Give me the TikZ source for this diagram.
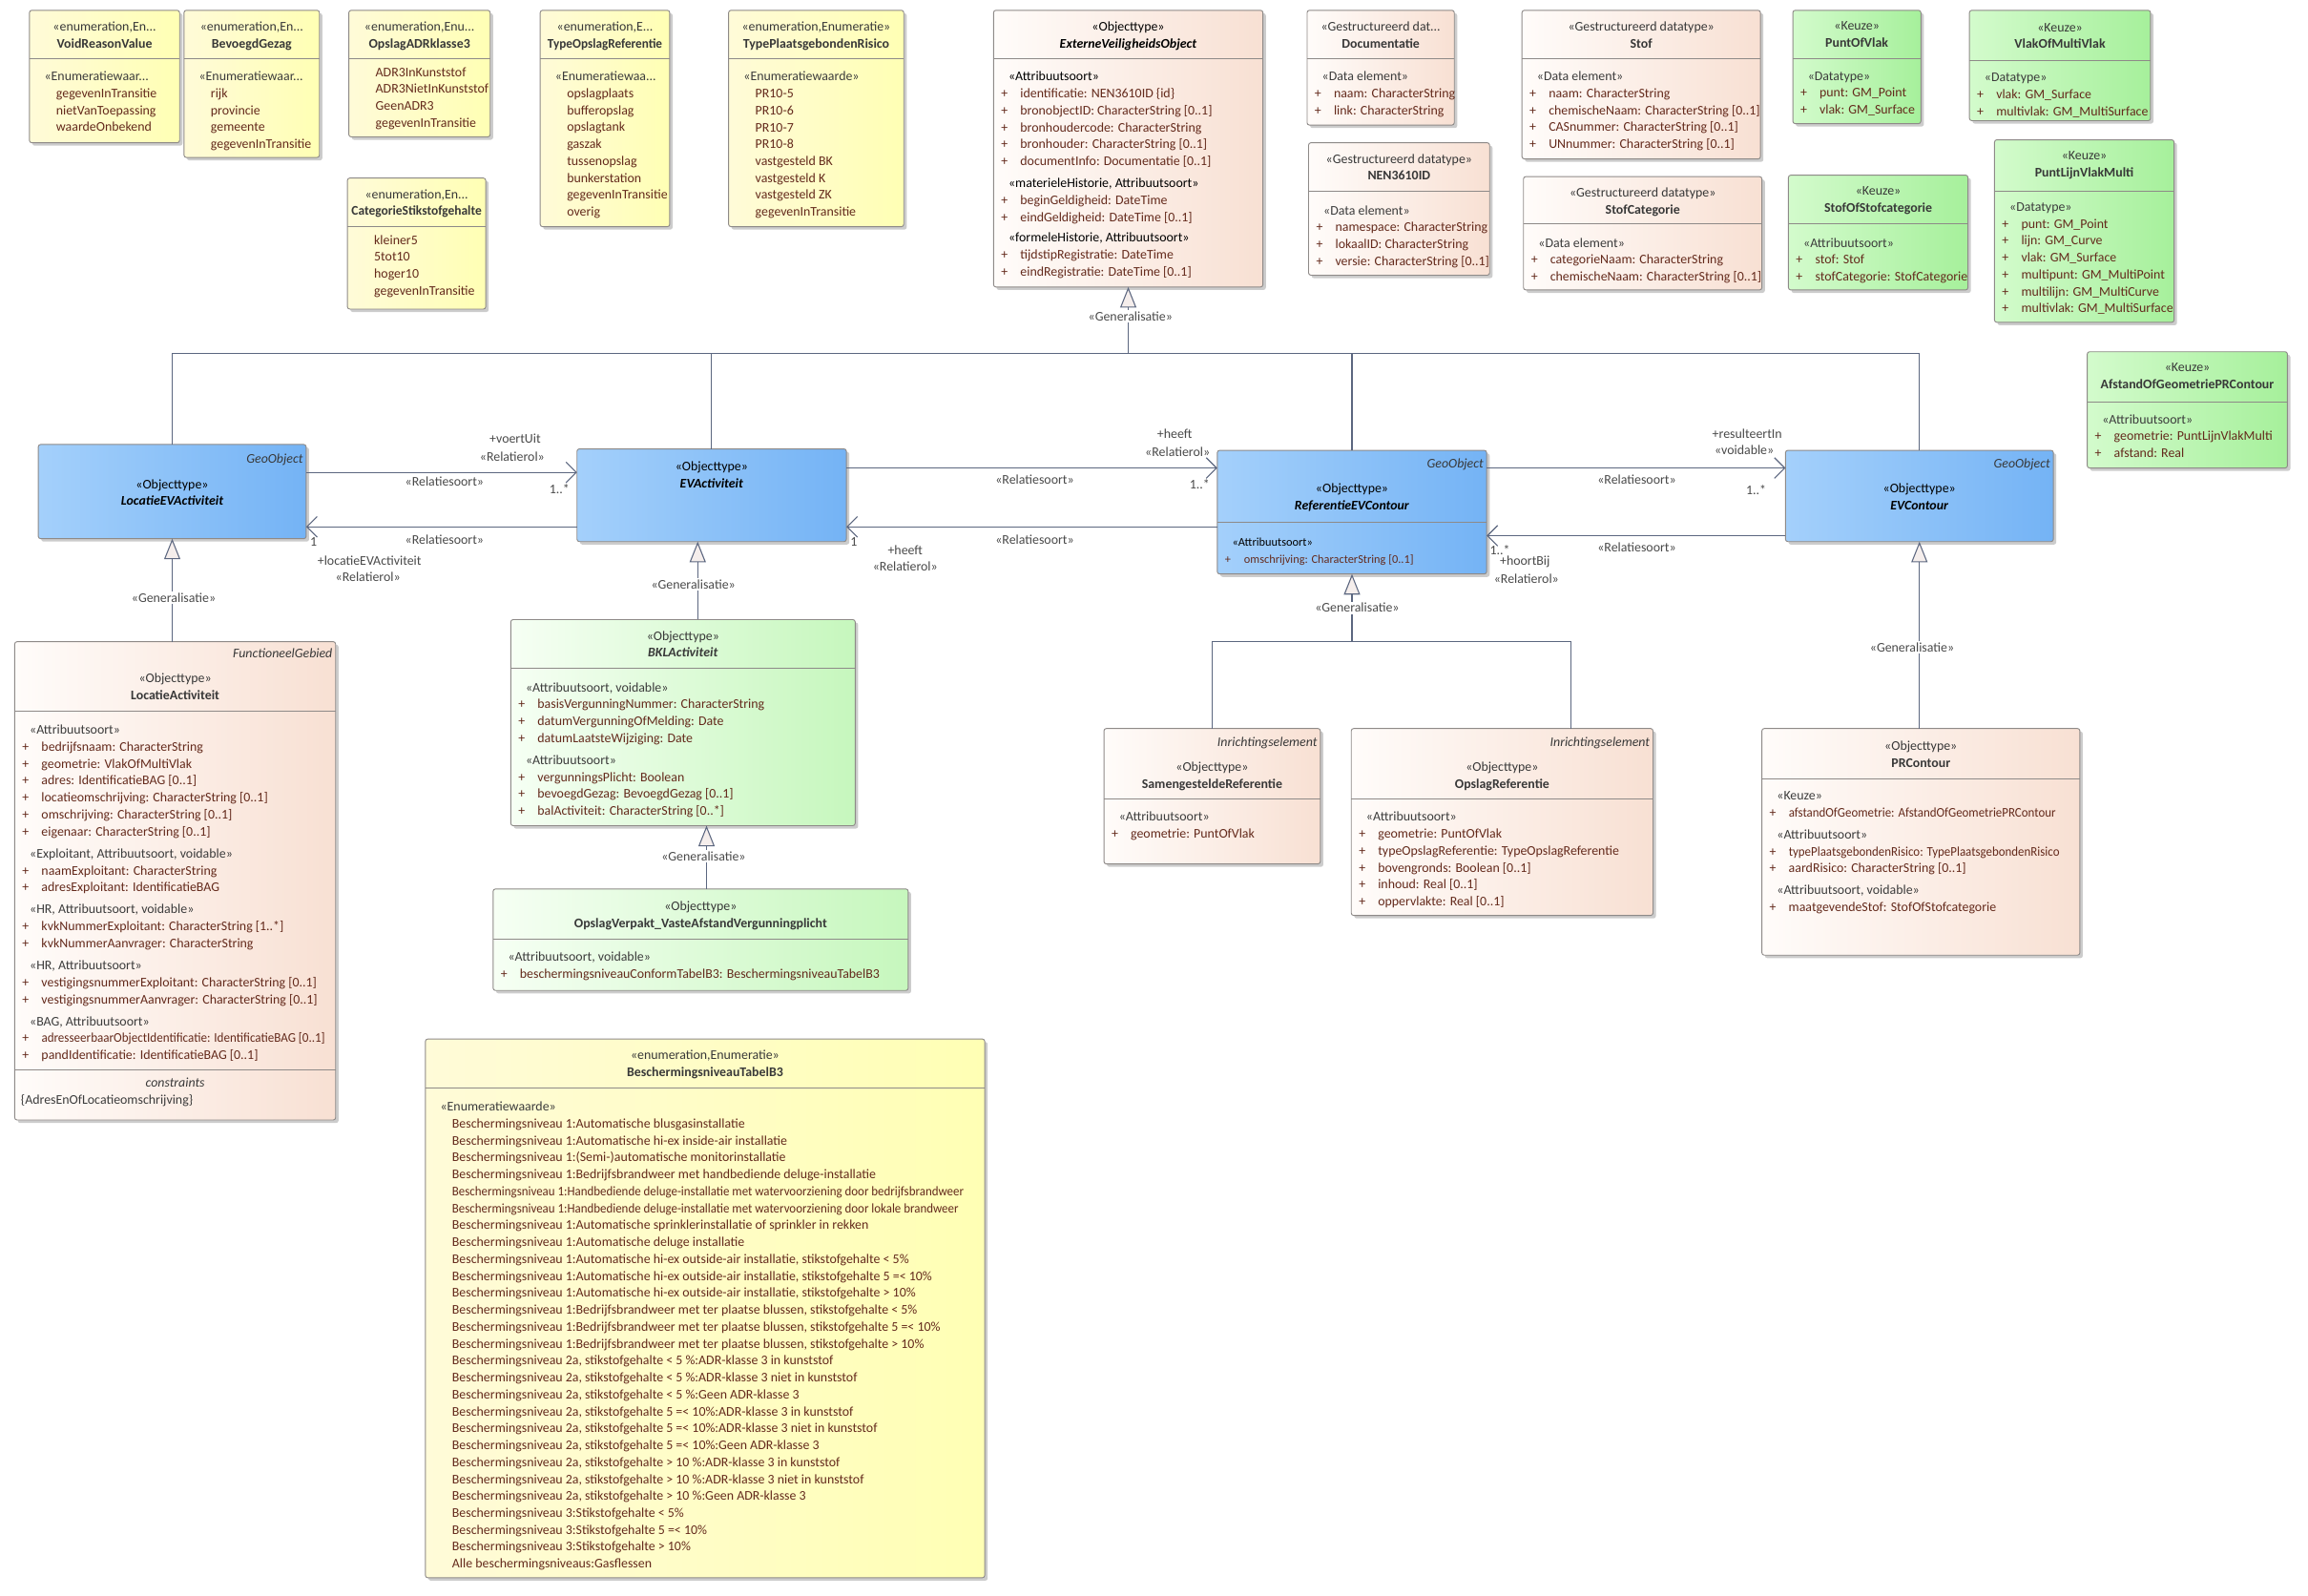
\documentclass[tikz,border=0pt]{standalone}
\usepackage{fontspec}
\setmainfont{Carlito}
\usepackage{graphicx}
\usetikzlibrary{arrows.meta,shadows}
\definecolor{lnc}{HTML}{5C6780}
\definecolor{boxline}{HTML}{8E8A88}
\definecolor{enumL}{HTML}{FFFBD8}
\definecolor{enumR}{HTML}{FFFFB4}
\definecolor{peachL}{HTML}{FFFCFA}
\definecolor{peachR}{HTML}{F8E0D3}
\definecolor{greenL}{HTML}{D3FBCC}
\definecolor{greenR}{HTML}{A6F09B}
\definecolor{lgreenL}{HTML}{F6FFF4}
\definecolor{lgreenR}{HTML}{C6F7BD}
\definecolor{blueL}{HTML}{A4D0FB}
\definecolor{blueR}{HTML}{74B3F5}
\definecolor{attc}{HTML}{642A1C}
\definecolor{stc}{HTML}{3C3C3C}
\definecolor{hdrc}{HTML}{383838}
\definecolor{lblc}{HTML}{4A4A4A}
\definecolor{trifill}{HTML}{F5EEEC}
\newcommand\fs{\fontsize{9}{11.5}\selectfont}
\newcommand\fsm{\fontsize{8}{11.5}\selectfont}
\newcommand\sth[1]{\hspace*{5pt}{\color{stc}#1}}
\newcommand\att[1]{\makebox[13pt][l]{+}#1}
\newcommand\itm[1]{\hspace*{13pt}#1}
\newcommand\sq[2]{\scalebox{#1}[1]{#2}}
\newcommand\umlbox[6]{\node[#2, minimum width={(#5)-(#3)}, minimum height={(#6)-(#4)}, anchor=north west] (#1) at (#3,#4) {};}
\newcommand\sepl[3]{\draw[sepline] (#1,#3) -- (#2,#3);}
\begin{document}
\begin{tikzpicture}[x=1pt,y=-1pt,
  box/.style={draw=boxline, line width=0.6pt, rounded corners=1.6pt, inner sep=0, outer sep=0,
    drop shadow={shadow xshift=2pt, shadow yshift=-2pt, fill=black, opacity=0.2}},
  enumbox/.style={box, left color=enumL, right color=enumR},
  peachbox/.style={box, left color=peachL, right color=peachR},
  greenbox/.style={box, left color=greenL, right color=greenR},
  lgreenbox/.style={box, left color=lgreenL, right color=lgreenR},
  bluebox/.style={box, left color=blueL, right color=blueR},
  sepline/.style={draw=boxline, line width=0.6pt},
  cmp/.style={inner sep=0, anchor=north west, align=left, font=\fs, text=attc, yshift=-2.5pt},
  hdr/.style={inner sep=0, anchor=north, align=center, font=\fs, text=hdrc, yshift=-2.5pt},
  tag/.style={inner sep=0, anchor=north east, font=\fs\itshape, text=hdrc, yshift=-2.5pt},
  lbl/.style={inner sep=0.5pt, font=\fs, text=lblc},
  glbl/.style={lbl, fill=white, inner sep=1pt},
  assoc/.style={draw=lnc, line width=0.7pt, -{Straight Barb[length=7pt,width=14pt]}},
  genl/.style={draw=lnc, line width=0.7pt, -{Triangle[length=14pt,width=11pt,fill=trifill]}},
  plain/.style={draw=lnc, line width=0.7pt}]
\fill[white] (0,0) rectangle (1568,1084.4);
\useasboundingbox (0,0) rectangle (1568,1084.4);

% ---------- enumerations top-left ----------
\umlbox{void}{enumbox}{20}{7}{122}{97}
\sepl{20}{122}{40}
\node[hdr] (void-h) at (71,12) {«enumeration,En...\\\textbf{VoidReasonValue}};
\node[cmp] (void-b) at (25,46) {\sth{«Enumeratiewaar...}\\\itm{gegevenInTransitie}\\\itm{nietVanToepassing}\\\itm{waardeOnbekend}};

\umlbox{bev}{enumbox}{125}{7}{217}{107}
\sepl{125}{217}{40}
\node[hdr] (bev-h) at (171,12) {«enumeration,En...\\\textbf{BevoegdGezag}};
\node[cmp] (bev-b) at (130,46) {\sth{«Enumeratiewaar...}\\\itm{rijk}\\\itm{provincie}\\\itm{gemeente}\\\itm{gegevenInTransitie}};

\umlbox{adr}{enumbox}{237}{7}{333}{93}
\sepl{237}{333}{40}
\node[hdr] (adr-h) at (285,12) {«enumeration,Enu...\\\textbf{OpslagADRklasse3}};
\node[cmp] (adr-b) at (242,43) {\itm{ADR3InKunststof}\\\itm{ADR3NietInKunststof}\\\itm{GeenADR3}\\\itm{gegevenInTransitie}};

\umlbox{cat}{enumbox}{236}{121}{330}{210}
\sepl{236}{330}{154}
\node[hdr] (cat-h) at (283,126) {«enumeration,En...\\\textbf{\sq{0.97}{CategorieStikstofgehalte}}};
\node[cmp] (cat-b) at (241,157) {\itm{kleiner5}\\\itm{5tot10}\\\itm{hoger10}\\\itm{gegevenInTransitie}};

\umlbox{tor}{enumbox}{367}{7}{455}{154}
\sepl{367}{455}{40}
\node[hdr] (tor-h) at (411,12) {«enumeration,E...\\\textbf{\sq{0.95}{TypeOpslagReferentie}}};
\node[cmp] (tor-b) at (372,46) {\sth{«Enumeratiewaa...}\\\itm{opslagplaats}\\\itm{bufferopslag}\\\itm{opslagtank}\\\itm{gaszak}\\\itm{tussenopslag}\\\itm{bunkerstation}\\\itm{gegevenInTransitie}\\\itm{overig}};

\umlbox{tpr}{enumbox}{495}{7}{614}{154}
\sepl{495}{614}{40}
\node[hdr] (tpr-h) at (554.5,12) {«enumeration,Enumeratie»\\\textbf{TypePlaatsgebondenRisico}};
\node[cmp] (tpr-b) at (500,46) {\sth{«Enumeratiewaarde»}\\\itm{PR10-5}\\\itm{PR10-6}\\\itm{PR10-7}\\\itm{PR10-8}\\\itm{vastgesteld BK}\\\itm{vastgesteld K}\\\itm{vastgesteld ZK}\\\itm{gegevenInTransitie}};

% ---------- ExterneVeiligheidsObject ----------
\umlbox{evo}{peachbox}{675}{7}{858}{195}
\sepl{675}{858}{40}
\node[hdr, text=black] (evo-h) at (766.5,12) {«Objecttype»\\\textbf{\textit{ExterneVeiligheidsObject}}};
\node[cmp] (evo-b) at (680,46) {\sth{\color{black}«Attribuutsoort»}\\\att{identificatie: NEN3610ID \{id\}}\\\att{bronobjectID: CharacterString [0..1]}\\\att{bronhoudercode: CharacterString}\\\att{bronhouder: CharacterString [0..1]}\\\att{documentInfo: Documentatie [0..1]}\\[3.5pt]\sth{\color{black}«materieleHistorie, Attribuutsoort»}\\\att{beginGeldigheid: DateTime}\\\att{eindGeldigheid: DateTime [0..1]}\\[2.5pt]\sth{\color{black}«formeleHistorie, Attribuutsoort»}\\\att{tijdstipRegistratie: DateTime}\\\att{eindRegistratie: DateTime [0..1]}};

% ---------- datatypes ----------
\umlbox{doc}{peachbox}{888}{7}{988}{85}
\sepl{888}{988}{40}
\node[hdr] (doc-h) at (938,12) {«Gestructureerd dat...\\\textbf{Documentatie}};
\node[cmp] (doc-b) at (893,46) {\sth{«Data element»}\\\att{naam: CharacterString}\\\att{link: CharacterString}};

\umlbox{nen}{peachbox}{889}{97}{1012}{187}
\sepl{889}{1012}{130}
\node[hdr] (nen-h) at (950.5,102) {«Gestructureerd datatype»\\\textbf{NEN3610ID}};
\node[cmp] (nen-b) at (894,137) {\sth{«Data element»}\\\att{namespace: CharacterString}\\\att{lokaalID: CharacterString}\\\att{versie: CharacterString [0..1]}};

\umlbox{stof}{peachbox}{1034}{7}{1196}{108}
\sepl{1034}{1196}{40}
\node[hdr] (stof-h) at (1115,12) {«Gestructureerd datatype»\\\textbf{Stof}};
\node[cmp] (stof-b) at (1039,46) {\sth{«Data element»}\\\att{naam: CharacterString}\\\att{chemischeNaam: CharacterString [0..1]}\\\att{CASnummer: CharacterString [0..1]}\\\att{UNnummer: CharacterString [0..1]}};

\umlbox{stcat}{peachbox}{1035}{120}{1197}{197}
\sepl{1035}{1197}{152}
\node[hdr] (stcat-h) at (1116,125) {«Gestructureerd datatype»\\\textbf{StofCategorie}};
\node[cmp] (stcat-b) at (1040,159) {\sth{«Data element»}\\\att{categorieNaam: CharacterString}\\\att{chemischeNaam: CharacterString [0..1]}};

% ---------- Keuze ----------
\umlbox{pov}{greenbox}{1218}{7}{1305}{84}
\sepl{1218}{1305}{40}
\node[hdr] (pov-h) at (1261.5,12) {«Keuze»\\\textbf{PuntOfVlak}};
\node[cmp] (pov-b) at (1223,46) {\sth{«Datatype»}\\\att{punt: GM\_Point}\\\att{vlak: GM\_Surface}};

\umlbox{vomv}{greenbox}{1338}{7}{1461}{82}
\sepl{1338}{1461}{41}
\node[hdr] (vomv-h) at (1399.5,13) {«Keuze»\\\textbf{VlakOfMultiVlak}};
\node[cmp] (vomv-b) at (1343,47) {\sth{«Datatype»}\\\att{vlak: GM\_Surface}\\\att{multivlak: GM\_MultiSurface}};

\umlbox{sosc}{greenbox}{1215}{119}{1337}{197}
\sepl{1215}{1337}{152}
\node[hdr] (sosc-h) at (1276,124) {«Keuze»\\\textbf{StofOfStofcategorie}};
\node[cmp] (sosc-b) at (1220,159) {\sth{«Attribuutsoort»}\\\att{stof: Stof}\\\att{stofCategorie: StofCategorie}};

\umlbox{plvm}{greenbox}{1355}{95}{1477}{219}
\sepl{1355}{1477}{130}
\node[hdr] (plvm-h) at (1416,100) {«Keuze»\\\textbf{PuntLijnVlakMulti}};
\node[cmp] (plvm-b) at (1360,135) {\sth{«Datatype»}\\\att{punt: GM\_Point}\\\att{lijn: GM\_Curve}\\\att{vlak: GM\_Surface}\\\att{multipunt: GM\_MultiPoint}\\\att{multilijn: GM\_MultiCurve}\\\att{multivlak: GM\_MultiSurface}};

\umlbox{aogp}{greenbox}{1418}{239}{1554}{318}
\sepl{1418}{1554}{273}
\node[hdr] (aogp-h) at (1486,244) {«Keuze»\\\textbf{AfstandOfGeometriePRContour}};
\node[cmp] (aogp-b) at (1423,279) {\sth{«Attribuutsoort»}\\\att{geometrie: PuntLijnVlakMulti}\\\att{afstand: Real}};

% ---------- blue main classes ----------
\umlbox{locev}{bluebox}{26}{302}{208}{366}
\node[tag] (locev-t) at (206,306) {GeoObject};
\node[hdr, text=black] (locev-h) at (117,323) {«Objecttype»\\\textbf{\textit{LocatieEVActiviteit}}};

\umlbox{evact}{bluebox}{392}{305}{575}{368}
\node[hdr, text=black] (evact-h) at (483.5,311) {«Objecttype»\\\textbf{\textit{EVActiviteit}}};

\umlbox{refev}{bluebox}{827}{306}{1010}{390}
\sepl{827}{1010}{355}
\node[tag] (refev-t) at (1008,309) {GeoObject};
\node[hdr, text=black] (refev-h) at (918.5,326) {«Objecttype»\\\textbf{\textit{ReferentieEVContour}}};
\node[cmp, font=\fsm] (refev-b) at (832,363) {\sth{\color{black}«Attribuutsoort»}\\\att{omschrijving: CharacterString [0..1]}};

\umlbox{evc}{bluebox}{1213}{306}{1395}{368}
\node[tag] (evc-t) at (1393,309) {GeoObject};
\node[hdr, text=black] (evc-h) at (1304,326) {«Objecttype»\\\textbf{\textit{EVContour}}};

% ---------- LocatieActiviteit ----------
\umlbox{locact}{peachbox}{10}{436}{228}{761}
\sepl{10}{228}{483}
\sepl{10}{228}{727}
\node[tag] (locact-t) at (226,438) {FunctioneelGebied};
\node[hdr] (locact-h) at (119,455) {«Objecttype»\\\textbf{LocatieActiviteit}};
\node[cmp] (locact-b) at (15,490) {\sth{«Attribuutsoort»}\\\att{bedrijfsnaam: CharacterString}\\\att{geometrie: VlakOfMultiVlak}\\\att{adres: IdentificatieBAG [0..1]}\\\att{locatieomschrijving: CharacterString [0..1]}\\\att{omschrijving: CharacterString [0..1]}\\\att{eigenaar: CharacterString [0..1]}\\[3.5pt]\sth{«Exploitant, Attribuutsoort, voidable»}\\\att{naamExploitant: CharacterString}\\\att{adresExploitant: IdentificatieBAG}\\[3.5pt]\sth{«HR, Attribuutsoort, voidable»}\\\att{kvkNummerExploitant: CharacterString [1..*]}\\\att{kvkNummerAanvrager: CharacterString}\\[3.5pt]\sth{«HR, Attribuutsoort»}\\\att{vestigingsnummerExploitant: CharacterString [0..1]}\\\att{vestigingsnummerAanvrager: CharacterString [0..1]}\\[3.5pt]\sth{«BAG, Attribuutsoort»}\\\att{\sq{0.94}{adresseerbaarObjectIdentificatie: IdentificatieBAG [0..1]}}\\\att{pandIdentificatie: IdentificatieBAG [0..1]}};
\node[hdr, font=\fs\itshape] (locact-c) at (119,730) {constraints};
\node[cmp, text=stc] (locact-cb) at (14,741) {\{AdresEnOfLocatieomschrijving\}};

% ---------- BKLActiviteit ----------
\umlbox{bkl}{lgreenbox}{347}{421}{581}{561}
\sepl{347}{581}{454}
\node[hdr] (bkl-h) at (464,426) {«Objecttype»\\\textbf{\textit{BKLActiviteit}}};
\node[cmp] (bkl-b) at (352,461) {\sth{«Attribuutsoort, voidable»}\\\att{basisVergunningNummer: CharacterString}\\\att{datumVergunningOfMelding: Date}\\\att{datumLaatsteWijziging: Date}\\[3.5pt]\sth{«Attribuutsoort»}\\\att{vergunningsPlicht: Boolean}\\\att{bevoegdGezag: BevoegdGezag [0..1]}\\\att{balActiviteit: CharacterString [0..*]}};

\umlbox{ovv}{lgreenbox}{335}{604}{617}{673}
\sepl{335}{617}{638}
\node[hdr] (ovv-h) at (476,610) {«Objecttype»\\\textbf{OpslagVerpakt\_VasteAfstandVergunningplicht}};
\node[cmp] (ovv-b) at (340,644) {\sth{«Attribuutsoort, voidable»}\\\att{beschermingsniveauConformTabelB3: BeschermingsniveauTabelB3}};

% ---------- referenties ----------
\umlbox{samref}{peachbox}{750}{495}{897}{587}
\sepl{750}{897}{543}
\node[tag] (samref-t) at (895,498) {Inrichtingselement};
\node[hdr] (samref-h) at (823.5,515) {«Objecttype»\\\textbf{SamengesteldeReferentie}};
\node[cmp] (samref-b) at (755,549) {\sth{«Attribuutsoort»}\\\att{geometrie: PuntOfVlak}};

\umlbox{opref}{peachbox}{918}{495}{1123}{622}
\sepl{918}{1123}{543}
\node[tag] (opref-t) at (1121,498) {Inrichtingselement};
\node[hdr] (opref-h) at (1020.5,515) {«Objecttype»\\\textbf{OpslagReferentie}};
\node[cmp] (opref-b) at (923,549) {\sth{«Attribuutsoort»}\\\att{geometrie: PuntOfVlak}\\\att{typeOpslagReferentie: TypeOpslagReferentie}\\\att{bovengronds: Boolean [0..1]}\\\att{inhoud: Real [0..1]}\\\att{oppervlakte: Real [0..1]}};

\umlbox{prc}{peachbox}{1197}{495}{1413}{649}
\sepl{1197}{1413}{529}
\node[hdr] (prc-h) at (1305,501) {«Objecttype»\\\textbf{PRContour}};
\node[cmp] (prc-b) at (1202,535) {\sth{«Keuze»}\\\att{\sq{0.93}{afstandOfGeometrie: AfstandOfGeometriePRContour}}\\[3.5pt]\sth{«Attribuutsoort»}\\\att{\sq{0.93}{typePlaatsgebondenRisico: TypePlaatsgebondenRisico}}\\\att{aardRisico: CharacterString [0..1]}\\[3.5pt]\sth{«Attribuutsoort, voidable»}\\\att{maatgevendeStof: StofOfStofcategorie}};

% ---------- BeschermingsniveauTabelB3 ----------
\umlbox{bnt}{enumbox}{289}{706}{669}{1072}
\sepl{289}{669}{739}
\node[hdr] (bnt-h) at (479,711) {«enumeration,Enumeratie»\\\textbf{BeschermingsniveauTabelB3}};
\node[cmp] (bnt-b) at (294,746) {\sth{«Enumeratiewaarde»}\\
\itm{Beschermingsniveau 1:Automatische blusgasinstallatie}\\
\itm{Beschermingsniveau 1:Automatische hi-ex inside-air installatie}\\
\itm{Beschermingsniveau 1:(Semi-)automatische monitorinstallatie}\\
\itm{Beschermingsniveau 1:Bedrijfsbrandweer met handbediende deluge-installatie}\\
\itm{\sq{0.93}{Beschermingsniveau 1:Handbediende deluge-installatie met watervoorziening door bedrijfsbrandweer}}\\
\itm{\sq{0.93}{Beschermingsniveau 1:Handbediende deluge-installatie met watervoorziening door lokale brandweer}}\\
\itm{Beschermingsniveau 1:Automatische sprinklerinstallatie of sprinkler in rekken}\\
\itm{Beschermingsniveau 1:Automatische deluge installatie}\\
\itm{Beschermingsniveau 1:Automatische hi-ex outside-air installatie, stikstofgehalte < 5\%}\\
\itm{Beschermingsniveau 1:Automatische hi-ex outside-air installatie, stikstofgehalte 5 =< 10\%}\\
\itm{Beschermingsniveau 1:Automatische hi-ex outside-air installatie, stikstofgehalte > 10\%}\\
\itm{Beschermingsniveau 1:Bedrijfsbrandweer met ter plaatse blussen, stikstofgehalte < 5\%}\\
\itm{Beschermingsniveau 1:Bedrijfsbrandweer met ter plaatse blussen, stikstofgehalte 5 =< 10\%}\\
\itm{Beschermingsniveau 1:Bedrijfsbrandweer met ter plaatse blussen, stikstofgehalte > 10\%}\\
\itm{Beschermingsniveau 2a, stikstofgehalte < 5 \%:ADR-klasse 3 in kunststof}\\
\itm{Beschermingsniveau 2a, stikstofgehalte < 5 \%:ADR-klasse 3 niet in kunststof}\\
\itm{Beschermingsniveau 2a, stikstofgehalte < 5 \%:Geen ADR-klasse 3}\\
\itm{Beschermingsniveau 2a, stikstofgehalte 5 =< 10\%:ADR-klasse 3 in kunststof}\\
\itm{Beschermingsniveau 2a, stikstofgehalte 5 =< 10\%:ADR-klasse 3 niet in kunststof}\\
\itm{Beschermingsniveau 2a, stikstofgehalte 5 =< 10\%:Geen ADR-klasse 3}\\
\itm{Beschermingsniveau 2a, stikstofgehalte > 10 \%:ADR-klasse 3 in kunststof}\\
\itm{Beschermingsniveau 2a, stikstofgehalte > 10 \%:ADR-klasse 3 niet in kunststof}\\
\itm{Beschermingsniveau 2a, stikstofgehalte > 10 \%:Geen ADR-klasse 3}\\
\itm{Beschermingsniveau 3:Stikstofgehalte < 5\%}\\
\itm{Beschermingsniveau 3:Stikstofgehalte 5 =< 10\%}\\
\itm{Beschermingsniveau 3:Stikstofgehalte > 10\%}\\
\itm{Alle beschermingsniveaus:Gasflessen}};

% ---------- generalisation tree to ExterneVeiligheidsObject ----------
\coordinate (gbar) at (0,240);
\draw[plain] (locev.north) -- (locev.north |- gbar) -- (evc.north |- gbar) -- (evc.north);
\draw[plain] (evact.north) -- (evact.north |- gbar);
\draw[plain] (refev.north) -- (refev.north |- gbar);
\draw[genl] (evo.south |- gbar) -- (evo.south);
\node[glbl] (g0) at (768,215) {«Generalisatie»};

% ---------- other generalisations ----------
\coordinate (gx1) at (117,0);
\draw[genl] (gx1 |- locact.north) -- (gx1 |- locev.south);
\node[glbl] (g1) at (118,406) {«Generalisatie»};

\coordinate (gx2) at (474,0);
\draw[genl] (gx2 |- bkl.north) -- (gx2 |- evact.south);
\node[glbl] (g2) at (471,397) {«Generalisatie»};

\coordinate (gx3) at (480,0);
\draw[genl] (gx3 |- ovv.north) -- (gx3 |- bkl.south);
\node[glbl] (g3) at (478,582) {«Generalisatie»};

\coordinate (rbar) at (0,436);
\coordinate (gx4) at (1067,0);
\draw[plain] (samref.north) -- (samref.north |- rbar) -- (gx4 |- rbar) -- (gx4 |- opref.north);
\draw[genl] (refev.south |- rbar) -- (refev.south);
\node[glbl] (g4) at (922,413) {«Generalisatie»};

\draw[genl] (evc.south |- prc.north) -- (evc.south);
\node[glbl] (g5) at (1299,440) {«Generalisatie»};

% ---------- associations ----------
\coordinate (yA1) at (0,321);
\coordinate (yA2) at (0,358);
\coordinate (yA3) at (0,318);
\coordinate (yA4) at (0,358);
\coordinate (yA5) at (0,318);
\coordinate (yA6) at (0,364);
\draw[assoc] (locev.east |- yA1) -- (evact.west |- yA1);
\draw[assoc] (evact.west |- yA2) -- (locev.east |- yA2);
\draw[assoc] (evact.east |- yA3) -- (refev.west |- yA3);
\draw[assoc] (refev.west |- yA4) -- (evact.east |- yA4);
\draw[assoc] (refev.east |- yA5) -- (evc.west |- yA5);
\draw[assoc] (evc.west |- yA6) -- (refev.east |- yA6);

\node[lbl] (l1a) at (350,298) {+voertUit};
\node[lbl] (l1b) at (348,310) {«Relatierol»};
\node[lbl] (l1c) at (302,327) {«Relatiesoort»};
\node[lbl] (l1d) at (380,332) {1..*};

\node[lbl] (l2a) at (213,368) {1};
\node[lbl] (l2b) at (302,367) {«Relatiesoort»};
\node[lbl] (l2c) at (251,381) {+locatieEVActiviteit};
\node[lbl] (l2d) at (250,392) {«Relatierol»};

\node[lbl] (l3a) at (798,295) {+heeft};
\node[lbl] (l3b) at (800,307) {«Relatierol»};
\node[lbl] (l3c) at (703,326) {«Relatiesoort»};
\node[lbl] (l3d) at (815,329) {1..*};

\node[lbl] (l4a) at (580,368) {1};
\node[lbl] (l4b) at (703,367) {«Relatiesoort»};
\node[lbl] (l4c) at (615,374) {+heeft};
\node[lbl] (l4d) at (615,385) {«Relatierol»};

\node[lbl] (l5a) at (1187,295) {+resulteertIn};
\node[lbl] (l5b) at (1185,306) {«voidable»};
\node[lbl] (l5c) at (1112,326) {«Relatiesoort»};
\node[lbl] (l5d) at (1193,333) {1..*};

\node[lbl] (l6a) at (1019,374) {1..*};
\node[lbl] (l6b) at (1112,372) {«Relatiesoort»};
\node[lbl] (l6c) at (1036,382) {+hoortBij};
\node[lbl] (l6d) at (1037,393) {«Relatierol»};
\end{tikzpicture}
\end{document}
